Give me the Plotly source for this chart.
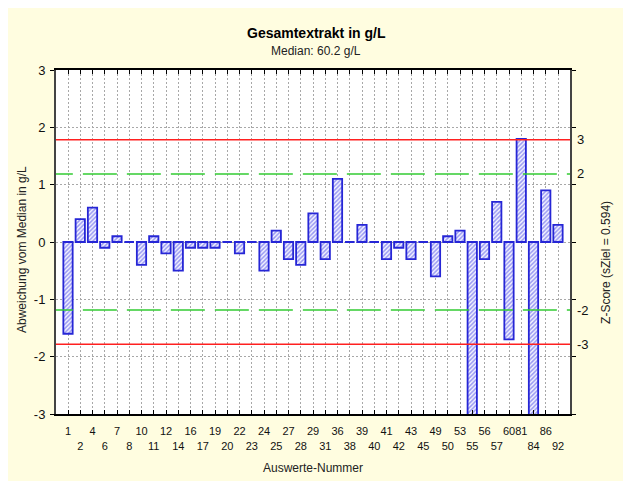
import plotly.graph_objects as go

# Auswerte-Nummern (x categories) and deviation from median in g/L
labels = ["1", "2", "4", "6", "7", "8", "10", "11", "12", "14", "16", "17", "19", "20",
          "22", "23", "24", "25", "27", "28", "29", "31", "36", "38", "39", "40", "41",
          "42", "43", "45", "49", "50", "53", "55", "56", "57", "60", "81", "84", "86", "92"]
deviation = [-1.6, 0.4, 0.6, -0.1, 0.1, 0.0, -0.4, 0.1, -0.2, -0.5, -0.1, -0.1, -0.1, 0.0,
             -0.2, 0.0, -0.5, 0.2, -0.3, -0.4, 0.5, -0.3, 1.1, 0.0, 0.3, 0.0, -0.3,
             -0.1, -0.3, 0.0, -0.6, 0.1, 0.2, -3.3, -0.3, 0.7, -1.7, 1.8, -3.4, 0.9, 0.3]
median = 60.2
s_ziel = 0.594
y_ticks = [-3, -2, -1, 0, 1, 2, 3]
z_ticks = [-3, -2, 2, 3]

FONT = "Liberation Sans, Arial, sans-serif"
BLUE = "#2626d6"
bar_w = 0.76
idx = list(range(len(labels)))

# two label rows, like the original (81 got pushed into the first row)
lower = [i % 2 == 1 for i in idx]
lower[37:] = [not v for v in lower[37:]]
ticktext = [("<br>" + t) if lo else t for t, lo in zip(labels, lower)]

fig = go.Figure()

fig.add_trace(go.Bar(
    x=idx, y=deviation, width=bar_w,
    marker=dict(color="white", line=dict(color=BLUE, width=1.8),
                pattern=dict(shape="/", fgcolor="#3c3ce6", bgcolor="#f4f4ff",
                             size=3, solidity=0.5)),
    showlegend=False, hoverinfo="skip"))

# zero-valued results still show as a flat blue line
zx, zy = [], []
for i, v in zip(idx, deviation):
    if v == 0:
        zx += [i - bar_w / 2, i + bar_w / 2, None]
        zy += [0, 0, None]
fig.add_trace(go.Scatter(x=zx, y=zy, mode="lines", line=dict(color=BLUE, width=2),
                         showlegend=False, hoverinfo="skip"))

# z-score limits: |z| = 2 green dashed, |z| = 3 red
for z in (2, -2):
    fig.add_trace(go.Scatter(x=[-2.38, 42], y=[z * s_ziel] * 2, mode="lines",
                             line=dict(color="#33cc33", width=1.5, dash="34px,10px"),
                             showlegend=False, hoverinfo="skip"))
for z in (3, -3):
    fig.add_trace(go.Scatter(x=[-2, 42], y=[z * s_ziel] * 2, mode="lines",
                             line=dict(color="#ff2020", width=1.5),
                             showlegend=False, hoverinfo="skip"))

# invisible trace to carry the right z-score axis
fig.add_trace(go.Scatter(x=[0], y=[0], yaxis="y2", mode="markers",
                         marker=dict(opacity=0), showlegend=False, hoverinfo="skip"))

note = dict(xref="paper", yref="paper", xanchor="center", yanchor="middle", showarrow=False)

fig.update_layout(
    width=623, height=473,
    margin=dict(l=48, r=61, t=62, b=67, autoexpand=False),
    paper_bgcolor="#fffde0", plot_bgcolor="white",
    font=dict(family=FONT, color="#111111"),
    xaxis=dict(range=[-0.98, 40.98], tickmode="array", tickvals=idx, ticktext=ticktext,
               tickangle=0, automargin=False,
               ticks="inside", ticklen=4, tickwidth=1, tickcolor="black",
               showline=True, linecolor="black", linewidth=2, mirror="ticks",
               showgrid=True, gridcolor="#a8a8a8", griddash="2px,2px", gridwidth=1,
               zeroline=False, tickfont=dict(size=11), ticklabelstandoff=6),
    yaxis=dict(range=[-3, 3], tickmode="array", tickvals=y_ticks,
               ticktext=[str(v) for v in y_ticks], automargin=False,
               ticks="outside", ticklen=4, tickcolor="black",
               showline=True, linecolor="#444444", linewidth=2, mirror="ticks",
               showgrid=True, gridcolor="#a8a8a8", griddash="2px,2px", gridwidth=1,
               zeroline=False, tickfont=dict(size=13), ticklabelstandoff=2),
    yaxis2=dict(overlaying="y", side="right", range=[-3 / s_ziel, 3 / s_ziel],
                tickmode="array", tickvals=z_ticks, ticktext=[str(v) for v in z_ticks],
                automargin=False, ticks="", showgrid=False, zeroline=False, showline=False,
                tickfont=dict(size=13), ticklabelstandoff=6),
    annotations=[
        dict(note, text="<b>Gesamtextrakt in g/L</b>", x=0.506, y=1.1076,
             font=dict(size=14, color="black")),
        dict(note, text=f"Median: {median} g/L", x=0.506, y=1.0552,
             font=dict(size=12, color="#222222")),
        dict(note, text="Auswerte-Nummer", x=0.50, y=-0.157,
             font=dict(size=12, color="#222222")),
        dict(note, text="Abweichung vom Median in g/L", x=-0.066, y=0.477, textangle=-90,
             font=dict(size=12, color="#222222")),
        dict(note, text=f"Z-Score (sZiel = {s_ziel})", x=1.070, y=0.442, textangle=-90,
             font=dict(size=12, color="#222222")),
    ],
)

fig.write_html("out.html")
